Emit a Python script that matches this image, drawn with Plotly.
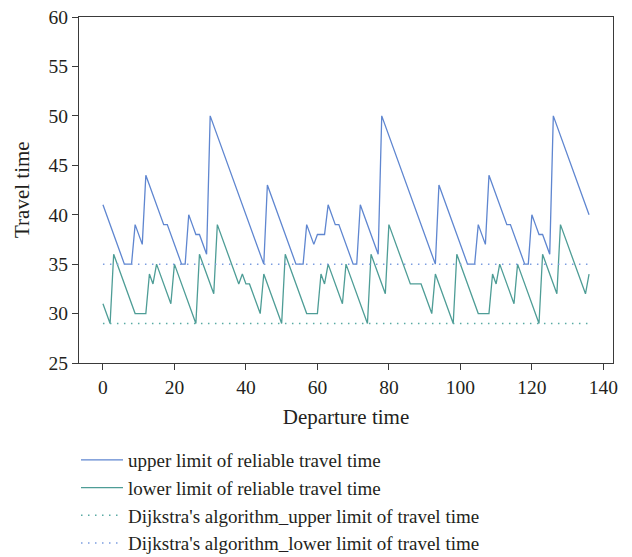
import plotly.graph_objects as go

departure = list(range(0, 137))

upper_reliable = [
    41, 40, 39, 38, 37, 36, 35, 35, 35, 39, 38, 37, 44, 43, 42, 41, 40, 39, 39, 38,
    37, 36, 35, 35, 40, 39, 38, 38, 37, 36, 50, 49, 48, 47, 46, 45, 44, 43, 42, 41,
    40, 39, 38, 37, 36, 35, 43, 42, 41, 40, 39, 38, 37, 36, 35, 35, 35, 39, 38, 37,
    38, 38, 38, 41, 40, 39, 39, 38, 37, 36, 35, 35, 41, 40, 39, 38, 37, 36, 50, 49,
    48, 47, 46, 45, 44, 43, 42, 41, 40, 39, 38, 37, 36, 35, 43, 42, 41, 40, 39, 38,
    37, 36, 35, 35, 35, 39, 38, 37, 44, 43, 42, 41, 40, 39, 39, 38, 37, 36, 35, 35,
    40, 39, 38, 38, 37, 36, 50, 49, 48, 47, 46, 45, 44, 43, 42, 41, 40,
]

lower_reliable = [
    31, 30, 29, 36, 35, 34, 33, 32, 31, 30, 30, 30, 30, 34, 33, 35, 34, 33, 32, 31,
    35, 34, 33, 32, 31, 30, 29, 36, 35, 34, 33, 32, 39, 38, 37, 36, 35, 34, 33, 34,
    33, 33, 32, 31, 30, 34, 33, 32, 31, 30, 29, 36, 35, 34, 33, 32, 31, 30, 30, 30,
    30, 34, 33, 35, 34, 33, 32, 31, 35, 34, 33, 32, 31, 30, 29, 36, 35, 34, 33, 32,
    39, 38, 37, 36, 35, 34, 33, 33, 33, 33, 32, 31, 30, 34, 33, 32, 31, 30, 29, 36,
    35, 34, 33, 32, 31, 30, 30, 30, 30, 34, 33, 35, 34, 33, 32, 31, 35, 34, 33, 32,
    31, 30, 29, 36, 35, 34, 33, 32, 39, 38, 37, 36, 35, 34, 33, 32, 34,
]

dijkstra_upper_level = 35
dijkstra_lower_level = 29

x_ticks = [0, 20, 40, 60, 80, 100, 120, 140]
y_ticks = [25, 30, 35, 40, 45, 50, 55, 60]

BLUE = "#5f86d0"
TEAL = "#4e9d96"
BLUE_DOT = "#7c9de0"
TEAL_DOT = "#5aaaa4"
FONT = "Liberation Serif"
TXT = "#231f20"

fig = go.Figure()
fig.add_trace(go.Scatter(x=departure, y=upper_reliable, mode="lines",
                         name="upper limit of reliable travel time",
                         line=dict(color=BLUE, width=1.3)))
fig.add_trace(go.Scatter(x=departure, y=lower_reliable, mode="lines",
                         name="lower limit of reliable travel time",
                         line=dict(color=TEAL, width=1.3)))
# legend colours follow the reference (teal dots listed first, blue second)
fig.add_trace(go.Scatter(x=departure, y=[dijkstra_lower_level] * len(departure), mode="lines",
                         name="Dijkstra's algorithm_upper limit of travel time",
                         line=dict(color=TEAL_DOT, width=1.5, dash="1.5px,5.5px")))
fig.add_trace(go.Scatter(x=departure, y=[dijkstra_upper_level] * len(departure), mode="lines",
                         name="Dijkstra's algorithm_lower limit of travel time",
                         line=dict(color=BLUE_DOT, width=1.5, dash="1.5px,5.5px")))

axis_common = dict(showline=True, mirror=True, linecolor="#3a3a3a", linewidth=1.3,
                   ticks="outside", ticklen=6, tickwidth=1.3, tickcolor="#3a3a3a",
                   showgrid=False, zeroline=False,
                   tickfont=dict(family=FONT, size=19.5, color=TXT))

fig.update_layout(
    width=632, height=557,
    margin=dict(l=79, r=19, t=17, b=194, autoexpand=False),
    paper_bgcolor="white", plot_bgcolor="white",
    font=dict(family=FONT, size=18, color=TXT),
    xaxis=dict(range=[-6.7, 142.7], tickvals=x_ticks,
               title=dict(text="Departure time", font=dict(family=FONT, size=21, color=TXT), standoff=12),
               **axis_common),
    yaxis=dict(range=[25, 60], tickvals=y_ticks, **axis_common),
    legend=dict(x=-3 / 534, xanchor="left",
                y=-78 / 346, yanchor="top",
                font=dict(family=FONT, size=19, color=TXT),
                bgcolor="rgba(0,0,0,0)", itemwidth=42, tracegroupgap=0),
    showlegend=True,
    annotations=[dict(text="Travel time", textangle=-90, xref="paper", yref="paper",
                      x=-57 / 534, y=0.5, xanchor="center", yanchor="middle",
                      showarrow=False, font=dict(family=FONT, size=21, color=TXT))],
)

fig.write_html("out.html")
